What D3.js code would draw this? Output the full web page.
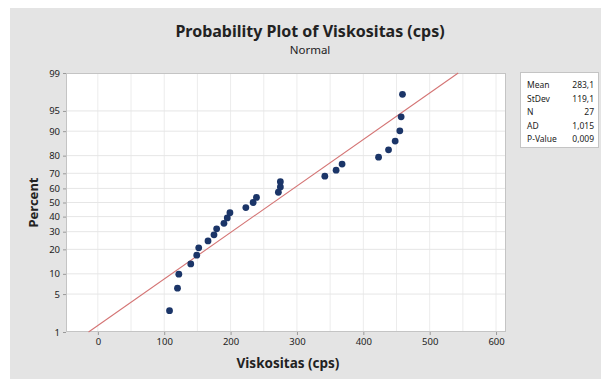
<!DOCTYPE html>
<html>
<head>
<meta charset="utf-8">
<script src="https://cdn.jsdelivr.net/npm/d3@7"></script>
<style>
  body { margin: 0; background: #fff; }
  svg { display: block; }
  text { font-family: "Noto Sans", "Open Sans", sans-serif; fill: #222; }
</style>
</head>
<body>
<svg width="601" height="379"></svg>
<script>
// Data (value, plotting percent)
var viskositas = [108, 120, 122, 140, 149, 152, 166, 175, 179, 190, 195, 199, 223, 234,
                  239, 272, 275, 275, 342, 359, 368, 423, 438, 448, 455, 457, 459];
var percent = [2.6, 6.2, 9.9, 13.5, 17.2, 20.8, 24.5, 28.1, 31.8, 35.4, 39.1, 42.7, 46.4, 50,
               53.6, 57.3, 61, 64.6, 68.2, 71.9, 75.5, 79.2, 82.8, 86.5, 90.1, 93.8, 97.4];

// fitted line ends as drawn
var fitPercent = [1, 99];
var fitValue = [-14, 543];

// axis ticks
var yTicks = [1, 5, 10, 20, 30, 40, 50, 60, 70, 80, 90, 95, 99];
var xTicks = [0, 100, 200, 300, 400, 500, 600];
var xGrid = [0, 50, 100, 150, 200, 250, 300, 350, 400, 450, 500, 550, 600];

// legend table
var statNames = ["Mean", "StDev", "N", "AD", "P-Value"];
var statValues = ["283,1", "119,1", "27", "1,015", "0,009"];

var svg = d3.select("svg");

// inverse of the normal cdf (Acklam)
function qnorm(p) {
  var a = [-39.69683028665376, 220.9460984245205, -275.9285104469687, 138.3577518672690, -30.66479806614716, 2.506628277459239];
  var b = [-54.47609879822406, 161.5858368580409, -155.6989798598866, 66.80131188771972, -13.28068155288572];
  var c = [-0.007784894002430293, -0.3223964580411365, -2.400758277161838, -2.549732539343734, 4.374664141464968, 2.938163982698783];
  var d = [0.007784695709041462, 0.3224671290700398, 2.445134137142996, 3.754408661907416];
  var q, r;
  if (p < 0.02425) {
    q = Math.sqrt(-2 * Math.log(p));
    return (((((c[0]*q+c[1])*q+c[2])*q+c[3])*q+c[4])*q+c[5]) / ((((d[0]*q+d[1])*q+d[2])*q+d[3])*q+1);
  } else if (p > 1 - 0.02425) {
    q = Math.sqrt(-2 * Math.log(1 - p));
    return -(((((c[0]*q+c[1])*q+c[2])*q+c[3])*q+c[4])*q+c[5]) / ((((d[0]*q+d[1])*q+d[2])*q+d[3])*q+1);
  }
  q = p - 0.5;
  r = q * q;
  return (((((a[0]*r+a[1])*r+a[2])*r+a[3])*r+a[4])*r+a[5])*q / (((((b[0]*r+b[1])*r+b[2])*r+b[3])*r+b[4])*r+1);
}

var plot = { left: 66, right: 506, top: 73, bottom: 332 };

var x = d3.scaleLinear().domain([-48, 615]).range([plot.left, plot.right]);
var z = d3.scaleLinear().domain([qnorm(0.01), qnorm(0.99)]).range([plot.bottom, plot.top]);
function y(pct) { return z(qnorm(pct / 100)); }

// grey backdrop
svg.append("rect")
  .attr("x", 10).attr("y", 8)
  .attr("width", 591).attr("height", 371)
  .attr("fill", "#e4e4e4");

// plot area
svg.append("rect")
  .attr("x", plot.left).attr("y", plot.top)
  .attr("width", plot.right - plot.left).attr("height", plot.bottom - plot.top)
  .attr("fill", "#fff");

// grid
svg.append("g").selectAll("line")
  .data(xGrid).enter().append("line")
  .attr("x1", function (d) { return x(d); })
  .attr("x2", function (d) { return x(d); })
  .attr("y1", plot.top).attr("y2", plot.bottom)
  .attr("stroke", "#ececec");

svg.append("g").selectAll("line")
  .data(yTicks).enter().append("line")
  .attr("x1", plot.left).attr("x2", plot.right)
  .attr("y1", function (d) { return y(d); })
  .attr("y2", function (d) { return y(d); })
  .attr("stroke", "#e6e6e6");

svg.append("rect")
  .attr("x", plot.left + 0.5).attr("y", plot.top + 0.5)
  .attr("width", plot.right - plot.left - 1).attr("height", plot.bottom - plot.top - 1)
  .attr("fill", "none")
  .attr("stroke", "#c4c4c4");

// axes
var xAxis = d3.axisBottom(x).tickValues(xTicks).tickSize(3).tickPadding(3);
var gx = svg.append("g")
  .attr("transform", "translate(0," + plot.bottom + ")")
  .call(xAxis);
gx.select(".domain").remove();

var yAxis = d3.axisLeft(z)
  .tickValues(yTicks.map(function (p) { return qnorm(p / 100); }))
  .tickFormat(function (d, i) { return yTicks[i]; })
  .tickSize(3).tickPadding(3);
var gy = svg.append("g")
  .attr("transform", "translate(" + plot.left + ",0)")
  .call(yAxis);
gy.select(".domain").remove();

svg.selectAll(".tick line").attr("stroke", "#999");
svg.selectAll(".tick text")
  .style("font-family", "'Noto Sans', sans-serif")
  .style("font-size", "9.5px")
  .attr("fill", "#333");

// fitted line
svg.append("line")
  .attr("x1", x(fitValue[0])).attr("y1", y(fitPercent[0]))
  .attr("x2", x(fitValue[1])).attr("y2", y(fitPercent[1]))
  .attr("stroke", "#d47474")
  .attr("stroke-width", 1.1);

// points
svg.append("g").selectAll("circle")
  .data(viskositas).enter().append("circle")
  .attr("cx", function (d) { return x(d); })
  .attr("cy", function (d, i) { return y(percent[i]); })
  .attr("r", 3.4)
  .attr("fill", "#1b3568");

// titles
svg.append("text")
  .attr("x", 310).attr("y", 37)
  .attr("text-anchor", "middle")
  .style("font-size", "16px").style("font-weight", "bold")
  .text("Probability Plot of Viskositas (cps)");

svg.append("text")
  .attr("x", 310).attr("y", 54)
  .attr("text-anchor", "middle")
  .style("font-size", "11.5px")
  .text("Normal");

svg.append("text")
  .attr("x", (plot.left + plot.right) / 2 + 2).attr("y", 368)
  .attr("text-anchor", "middle")
  .style("font-size", "13.5px").style("font-weight", "bold")
  .text("Viskositas (cps)");

svg.append("text")
  .attr("transform", "translate(38," + ((plot.top + plot.bottom) / 2) + ") rotate(-90)")
  .attr("text-anchor", "middle")
  .style("font-size", "13px").style("font-weight", "bold")
  .text("Percent");

// legend
var legend = svg.append("g").attr("transform", "translate(520,72)");
legend.append("rect")
  .attr("x", 0.5).attr("y", 0.5)
  .attr("width", 78).attr("height", 75)
  .attr("fill", "#fff")
  .attr("stroke", "#c4c4c4");

legend.selectAll(".name")
  .data(statNames).enter().append("text")
  .attr("class", "name")
  .attr("x", 7)
  .attr("y", function (d, i) { return 16 + i * 13.5; })
  .style("font-size", "8.5px")
  .text(function (d) { return d; });

legend.selectAll(".val")
  .data(statValues).enter().append("text")
  .attr("class", "val")
  .attr("x", 74)
  .attr("y", function (d, i) { return 16 + i * 13.5; })
  .attr("text-anchor", "end")
  .style("font-size", "8.5px")
  .text(function (d) { return d; });
</script>
</body>
</html>
